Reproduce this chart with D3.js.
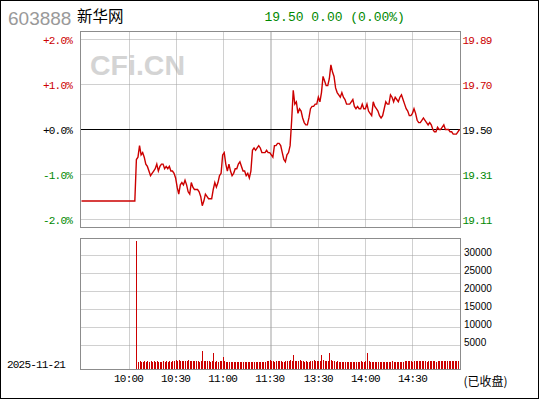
<!DOCTYPE html>
<html>
<head>
<meta charset="utf-8">
<script src="https://cdn.jsdelivr.net/npm/d3@7"></script>
<style>
  body { margin: 0; background: #fff; }
  svg { display: block; }
  .mono { font-family: "Liberation Mono", "DejaVu Sans Mono", monospace; font-size: 11px; letter-spacing: -0.8px; }
</style>
</head>
<body>
<svg id="chart"></svg>
<script>
const code = "603888";
const stockName = "新华网";
const quote = "19.50 0.00 (0.00%)";
const tradeDate = "2025-11-21";
const status = "(已收盘)";
const prevClose = 19.50;

const pctTicks = [2, 1, 0, -1, -2];
const pctLabels = ["+2.0%", "+1.0%", "+0.0%", "-1.0%", "-2.0%"];
const priceLabels = ["19.89", "19.70", "19.50", "19.31", "19.11"];
const volTicks = [30000, 25000, 20000, 15000, 10000, 5000];
// minute index: 0 = 9:30, 120 = 11:30, 121 = 13:00, 241 = 15:00
const timeTicks = [30, 60, 90, 120, 151, 181, 211];
const timeLabels = ["10:00", "10:30", "11:00", "11:30", "13:30", "14:00", "14:30"];
const gridIdx = [30, 60, 90, 120, 121, 151, 181, 211];

// no trading before 10:05, drawn flat
const haltIdx = [0, 34];
const haltPrice = 19.19;

// idx 35 .. 120
const amPrices = [
  19.37, 19.38, 19.43, 19.39, 19.40, 19.38, 19.35, 19.34, 19.32, 19.30,
  19.31, 19.32, 19.33, 19.35, 19.32, 19.34, 19.35, 19.35, 19.33, 19.34,
  19.33, 19.34, 19.32, 19.32, 19.31, 19.29, 19.25, 19.22, 19.26, 19.27,
  19.26, 19.28, 19.26, 19.23, 19.22, 19.27, 19.25, 19.24, 19.24, 19.24,
  19.23, 19.21, 19.17, 19.19, 19.22, 19.21, 19.20, 19.20, 19.20, 19.24,
  19.27, 19.25, 19.27, 19.30, 19.31, 19.39, 19.40, 19.35, 19.32, 19.35,
  19.32, 19.30, 19.31, 19.33, 19.33, 19.35, 19.36, 19.34, 19.32, 19.32,
  19.30, 19.31, 19.29, 19.32, 19.41, 19.42, 19.41, 19.42, 19.43, 19.42,
  19.40, 19.40, 19.40, 19.41, 19.40, 19.40
];
const amStart = 35;

// idx 121 .. 241
const pmPrices = [
  19.39,
  19.38, 19.43, 19.43, 19.44, 19.44, 19.43, 19.40, 19.37, 19.36, 19.39,
  19.40, 19.43, 19.54, 19.67, 19.61, 19.62, 19.57, 19.59, 19.58, 19.55,
  19.53, 19.52, 19.52, 19.55, 19.59, 19.60, 19.60, 19.61, 19.61, 19.64,
  19.62, 19.66, 19.73, 19.71, 19.69, 19.69, 19.72, 19.78, 19.75, 19.73,
  19.68, 19.66, 19.65, 19.64, 19.66, 19.64, 19.63, 19.61, 19.61, 19.61,
  19.62, 19.63, 19.60, 19.59, 19.60, 19.59, 19.59, 19.61, 19.59, 19.59,
  19.61, 19.58, 19.57, 19.56, 19.62, 19.60, 19.59, 19.58, 19.56, 19.55,
  19.56, 19.59, 19.62, 19.61, 19.61, 19.65, 19.64, 19.62, 19.64, 19.63,
  19.62, 19.64, 19.65, 19.63, 19.61, 19.59, 19.58, 19.56, 19.56, 19.57,
  19.59, 19.57, 19.54, 19.53, 19.53, 19.54, 19.55, 19.54, 19.53, 19.52,
  19.53, 19.52, 19.50, 19.49, 19.49, 19.51, 19.50, 19.50, 19.51, 19.52,
  19.50, 19.50, 19.50, 19.49, 19.49, 19.48, 19.48, 19.48, 19.49, 19.50
];
const pmStart = 121;

// idx 35 .. 241
const volumes = [
  33600, 500, 600, 450, 550, 700, 500, 650, 450, 600,
  550, 700, 480, 620, 500, 560, 450, 700, 520, 600,
  480, 650, 520, 580, 700, 900, 600, 1070, 650, 580,
  700, 620, 750, 900, 600, 680, 720, 650, 700, 600,
  550, 800, 3350, 650, 600, 700, 580, 520, 600, 2900,
  500, 600, 560, 650, 700, 1800, 800, 560, 520, 480,
  500, 450, 520, 480, 500, 550, 450, 520, 480, 500,
  450, 500, 520, 470, 500, 450, 520, 480, 500, 460,
  500, 520, 480, 600, 700, 900, 850, 700, 500, 600,
  650, 700, 620, 560, 500, 650, 720, 600, 1000, 800,
  2500, 700, 650, 600, 1000, 750, 600, 550, 620, 500,
  560, 600, 620, 1100, 700, 650, 600, 800, 2500, 1100,
  700, 650, 600, 2800, 1000, 650, 700, 550, 600, 500,
  520, 480, 500, 460, 520, 500, 480, 560, 500, 520,
  480, 500, 550, 600, 520, 560, 700, 2900, 620, 550,
  500, 560, 480, 520, 500, 460, 520, 480, 500, 460,
  500, 520, 480, 600, 520, 500, 480, 460, 500, 520,
  560, 600, 620, 580, 650, 600, 560, 620, 580, 600,
  640, 600, 620, 580, 600, 560, 620, 600, 640, 580,
  600, 560, 620, 600, 580, 650, 620, 600, 640, 580,
  600, 620, 660, 600, 700, 640, 1800
];
const volStart = 35;

const width = 540;
const height = 400;
const red = "#cc0000";
const green = "#008800";
const gridColor = "#a0a0a0";

const svg = d3.select("#chart").attr("width", width).attr("height", height);

const x = d3.scaleLinear().domain([0, 241]).range([81.5, 459.5]);
const yPct = d3.scaleLinear().domain([-2, 2]).range([219.5, 39.5]);
const yPrice = d3.scaleLinear().domain([prevClose * 0.98, prevClose * 1.02]).range([219.5, 39.5]);
const yVol = d3.scaleLinear().domain([0, 30000]).range([363.6, 254.5]);
const volBottom = 369.5;

function pctColor(v) {
  return v > 0 ? red : v < 0 ? green : "#000";
}

// outer frame
svg.append("rect")
  .attr("x", 0.5).attr("y", 0.5)
  .attr("width", 538).attr("height", 398)
  .attr("fill", "none").attr("stroke", "#000");

// header
svg.append("text")
  .attr("x", 8).attr("y", 24.5)
  .attr("font-family", "Liberation Sans, Arial, sans-serif")
  .attr("font-size", 19)
  .attr("fill", "#999")
  .text(code);

svg.append("text")
  .attr("x", 77).attr("y", 21.5)
  .attr("font-family", "Noto Sans CJK SC")
  .attr("font-size", 15.5)
  .attr("fill", "#000")
  .text(stockName);

svg.append("text")
  .attr("x", 264.5).attr("y", 20.5)
  .attr("font-family", "Liberation Mono, monospace")
  .attr("font-size", 13)
  .attr("fill", green)
  .text(quote);

// watermark
svg.append("text")
  .attr("x", 90).attr("y", 74.5)
  .attr("font-family", "Liberation Sans, Arial, sans-serif")
  .attr("font-weight", "bold")
  .attr("font-size", 28.5)
  .attr("fill", "#d4d4d4")
  .text("CFi.CN");

// price panel grid
const pricePanel = svg.append("g");

pricePanel.selectAll(".hgrid")
  .data(pctTicks.filter((d) => d !== 0))
  .enter()
  .append("line")
  .attr("x1", 80.5).attr("x2", 460.5)
  .attr("y1", (d) => yPct(d)).attr("y2", (d) => yPct(d))
  .attr("stroke", gridColor)
  .attr("stroke-dasharray", "1,1");

pricePanel.selectAll(".vgrid")
  .data(gridIdx)
  .enter()
  .append("line")
  .attr("x1", (d) => Math.round(x(d)) + 0.5).attr("x2", (d) => Math.round(x(d)) + 0.5)
  .attr("y1", 31.5).attr("y2", 227.5)
  .attr("stroke", gridColor)
  .attr("stroke-dasharray", "1,1");

pricePanel.append("line")
  .attr("x1", 80.5).attr("x2", 460.5)
  .attr("y1", yPct(0)).attr("y2", yPct(0))
  .attr("stroke", "#000");

pricePanel.append("rect")
  .attr("x", 80.5).attr("y", 31.5)
  .attr("width", 380).attr("height", 196)
  .attr("fill", "none").attr("stroke", "#8c8c8c");

// price line
const points = haltIdx.map((i) => ({ i: i, p: haltPrice }))
  .concat(amPrices.map((p, k) => ({ i: amStart + k, p: p })))
  .concat(pmPrices.map((p, k) => ({ i: pmStart + k, p: p })));

const line = d3.line()
  .x((d) => x(d.i))
  .y((d) => yPrice(d.p));

pricePanel.append("path")
  .datum(points)
  .attr("d", line)
  .attr("fill", "none")
  .attr("stroke", red)
  .attr("stroke-width", 1.4)
  .attr("stroke-linejoin", "miter");

// left / right labels
svg.append("g").selectAll("text")
  .data(pctTicks)
  .enter()
  .append("text")
  .attr("class", "mono")
  .attr("x", 72).attr("y", (d) => yPct(d) + 4)
  .attr("text-anchor", "end")
  .attr("fill", (d) => pctColor(d))
  .text((d, i) => pctLabels[i]);

svg.append("g").selectAll("text")
  .data(pctTicks)
  .enter()
  .append("text")
  .attr("class", "mono")
  .attr("x", 462.5).attr("y", (d) => yPct(d) + 4)
  .attr("fill", (d) => pctColor(d))
  .text((d, i) => priceLabels[i]);

// volume panel
const volPanel = svg.append("g");

volPanel.selectAll(".hgrid")
  .data(volTicks)
  .enter()
  .append("line")
  .attr("x1", 80.5).attr("x2", 460.5)
  .attr("y1", (d) => Math.round(yVol(d)) + 0.5).attr("y2", (d) => Math.round(yVol(d)) + 0.5)
  .attr("stroke", gridColor)
  .attr("stroke-dasharray", "1,1");

volPanel.selectAll(".vgrid")
  .data(gridIdx)
  .enter()
  .append("line")
  .attr("x1", (d) => Math.round(x(d)) + 0.5).attr("x2", (d) => Math.round(x(d)) + 0.5)
  .attr("y1", 238.5).attr("y2", volBottom)
  .attr("stroke", gridColor)
  .attr("stroke-dasharray", "1,1");

volPanel.selectAll(".bar")
  .data(volumes)
  .enter()
  .append("rect")
  .attr("x", (d, k) => Math.round(x(volStart + k)))
  .attr("y", (d) => yVol(d))
  .attr("width", 1)
  .attr("height", (d) => volBottom - yVol(d))
  .attr("fill", red)
  .attr("shape-rendering", "crispEdges");

volPanel.append("rect")
  .attr("x", 80.5).attr("y", 238.5)
  .attr("width", 380).attr("height", 131)
  .attr("fill", "none").attr("stroke", "#8c8c8c");

svg.append("g").selectAll("text")
  .data(volTicks)
  .enter()
  .append("text")
  .attr("x", 464).attr("y", (d) => yVol(d) + 1)
  .attr("font-family", "Liberation Sans, Arial, sans-serif")
  .attr("font-size", 10)
  .attr("fill", "#000")
  .text((d) => d);

// time axis
svg.append("g").selectAll("text")
  .data(timeTicks)
  .enter()
  .append("text")
  .attr("class", "mono")
  .attr("x", (d) => x(d))
  .attr("y", 382)
  .attr("text-anchor", "middle")
  .attr("fill", "#000")
  .text((d, i) => timeLabels[i]);

svg.append("text")
  .attr("class", "mono")
  .attr("x", 7).attr("y", 367.5)
  .attr("fill", "#000")
  .text(tradeDate);

svg.append("text")
  .attr("x", 463.5).attr("y", 386)
  .attr("font-family", "Noto Sans CJK SC")
  .attr("font-size", 12)
  .attr("fill", "#000")
  .text(status);
</script>
</body>
</html>
